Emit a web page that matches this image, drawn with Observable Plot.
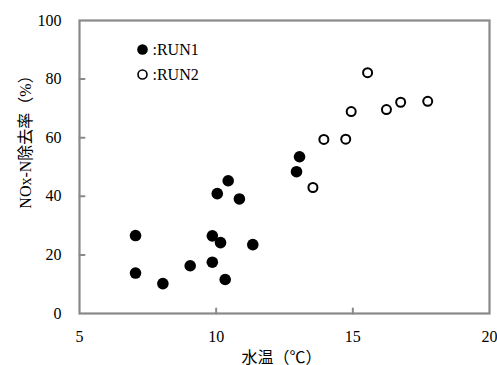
<!DOCTYPE html>
<html>
<head>
<meta charset="utf-8">
<script src="https://cdn.jsdelivr.net/npm/d3@7"></script>
<script src="https://cdn.jsdelivr.net/npm/@observablehq/plot@0.6"></script>
<style>
  html, body { margin: 0; padding: 0; background: #fff; }
</style>
</head>
<body>
<div id="chart"></div>
<script>
const run1Temp = [7.05, 7.05, 8.05, 9.05, 9.86, 9.86, 10.04, 10.16, 10.44, 10.33, 10.85, 11.34, 13.05, 12.94];
const run1Rate = [26.6, 13.8, 10.2, 16.3, 17.5, 26.5, 40.9, 24.2, 45.3, 11.6, 39.1, 23.5, 53.5, 48.4];
const run2Temp = [13.54, 13.94, 14.74, 14.94, 15.54, 16.23, 16.75, 17.74];
const run2Rate = [43.0, 59.4, 59.5, 68.9, 82.2, 69.6, 72.1, 72.4];
const xTicks = [5, 10, 15, 20];
const yTicks = [0, 20, 40, 60, 80, 100];
const seriesNames = ["RUN1", "RUN2"];
const xTitle = "水温（℃）";
const yTitle = "NOx-N除去率（%）";

const font = "'Liberation Serif', 'Noto Sans CJK JP', serif";
const axisGray = "#898989";
const run1 = run1Temp.map((t, i) => ({t, r: run1Rate[i]}));
const run2 = run2Temp.map((t, i) => ({t, r: run2Rate[i]}));
const tickShape = {draw(context, l) { context.moveTo(0, 0); context.lineTo(0, -l); }};

const chart = Plot.plot({
  width: 497,
  height: 365,
  marginLeft: 79,
  marginRight: 8,
  marginTop: 20,
  marginBottom: 52,
  style: {fontFamily: font, fontSize: "16px", background: "#fff"},
  x: {domain: [5, 20]},
  y: {domain: [0, 100]},
  marks: [
    Plot.axisX(xTicks, {tickSize: 0, tickPadding: 17, label: null, fontSize: 16}),
    Plot.axisY(yTicks, {tickSize: 0, tickPadding: 18, label: null, fontSize: 16}),
    Plot.vector(xTicks.slice(1, -1), {x: d => d, frameAnchor: "bottom", length: 5, anchor: "start", shape: tickShape, stroke: axisGray, strokeWidth: 2}),
    Plot.vector(yTicks.slice(1, -1), {y: d => d, frameAnchor: "left", length: 5, rotate: 90, anchor: "start", shape: tickShape, stroke: axisGray, strokeWidth: 2}),
    Plot.frame({stroke: axisGray, strokeWidth: 2.2}),
    Plot.dot(run1, {x: "t", y: "r", r: 5.8, fill: "#000"}),
    Plot.dot(run2, {x: "t", y: "r", r: 4.5, fill: "#fff", stroke: "#000", strokeWidth: 2}),
    // legend
    Plot.dot([seriesNames[0]], {x: null, y: null, frameAnchor: "top-left", dx: 63, dy: 29, r: 5.3, fill: "#000"}),
    Plot.dot([seriesNames[1]], {x: null, y: null, frameAnchor: "top-left", dx: 63, dy: 54, r: 4.5, fill: "#fff", stroke: "#000", strokeWidth: 1.6}),
    Plot.text([":" + seriesNames[0]], {text: d => d, frameAnchor: "top-left", dx: 73, dy: 29, textAnchor: "start", lineAnchor: "middle", fontSize: 16, fill: "#000"}),
    Plot.text([":" + seriesNames[1]], {text: d => d, frameAnchor: "top-left", dx: 73, dy: 54, textAnchor: "start", lineAnchor: "middle", fontSize: 16, fill: "#000"}),
    // axis titles
    Plot.text([xTitle], {text: d => d, frameAnchor: "bottom", dx: -3, dy: 44, textAnchor: "middle", lineAnchor: "middle", fontSize: 16, fill: "#000"}),
    Plot.text([yTitle], {text: d => d, frameAnchor: "left", dx: -54, dy: -29, rotate: -90, textAnchor: "middle", lineAnchor: "middle", fontSize: 16, fill: "#000"})
  ]
});
document.getElementById("chart").appendChild(chart);
</script>
</body>
</html>
